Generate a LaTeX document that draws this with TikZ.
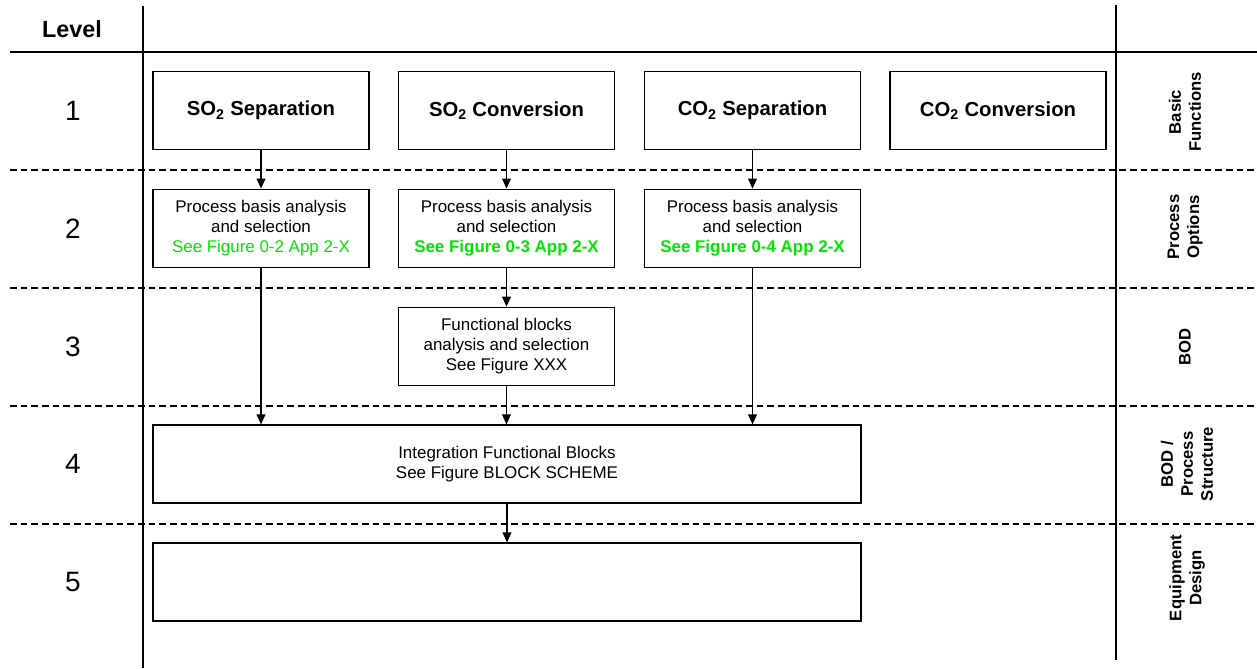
\documentclass[tikz,border=0pt]{standalone}
\usepackage{fontspec}
\setmainfont{Liberation Sans}
\usetikzlibrary{arrows.meta}
\definecolor{figgreen}{RGB}{0,230,0}
\begin{document}
\begin{tikzpicture}[x=0.75pt,y=-0.75pt,
  rule/.style={line width=1.1pt},
  levelsep/.style={line width=0.9pt,dash pattern=on 5pt off 3pt},
  fnbox/.style={draw,line width=0.8pt,minimum width=162pt,minimum height=59pt,
    align=center,font=\fontsize{15.2}{18}\selectfont\bfseries},
  stepbox/.style={draw,line width=0.8pt,minimum width=162pt,minimum height=59pt,
    align=center,font=\fontsize{12.7}{15}\selectfont},
  widebox/.style={draw,line width=0.8pt,minimum width=531pt,minimum height=58.5pt,
    align=center,font=\fontsize{12.7}{15}\selectfont},
  levelnum/.style={font=\fontsize{21}{24}\selectfont},
  sidelabel/.style={rotate=90,align=center,font=\fontsize{12.5}{15}\selectfont\bfseries},
  arr/.style={line width=1.1pt,-{Triangle[length=7.5pt,width=6.5pt]}}]
\useasboundingbox (0,0) rectangle (1257,668);

% table frame
\draw[rule] (143,6) -- (143,668);
\draw[rule] (1116,5) -- (1116,660);
\draw[rule] (10,52) -- (1257,52);
\foreach \yy in {170,288,406,524}
  \draw[levelsep] (10,\yy) -- (1257,\yy);

% level column
\node[font=\fontsize{17.5}{20}\selectfont\bfseries] (lvl) at (72,29) {Level};
\node[levelnum] (n1) at (73,110.5) {1};
\node[levelnum] (n2) at (73,228.5) {2};
\node[levelnum] (n3) at (73,346.5) {3};
\node[levelnum] (n4) at (73,464) {4};
\node[levelnum] (n5) at (73,582) {5};

% right-hand phase labels
\node[sidelabel] (s1) at (1185,112) {Basic\\Functions};
\node[sidelabel] (s2) at (1185,227) {Process\\Options};
\node[sidelabel] (s3) at (1185,347) {BOD};
\node[sidelabel] (s4) at (1187,464) {BOD /\\Process\\Structure};
\node[sidelabel] (s5) at (1187,578) {Equipment\\Design};

% level 1: basic functions
\node[fnbox] (t1) at (261,110.5) {SO\textsubscript{2} Separation};
\node[fnbox] (t2) at (506.5,110.5) {SO\textsubscript{2} Conversion};
\node[fnbox] (t3) at (752.5,110.5) {CO\textsubscript{2} Separation};
\node[fnbox] (t4) at (998,110.5) {CO\textsubscript{2} Conversion};

% level 2: process options
\node[stepbox] (p1) at (261,228.5) {Process basis analysis\\and selection\\{\color{figgreen}See Figure 0-2 App 2-X}};
\node[stepbox] (p2) at (506.5,228.5) {Process basis analysis\\and selection\\{\color{figgreen}\bfseries See Figure 0-3 App 2-X}};
\node[stepbox] (p3) at (752.5,228.5) {Process basis analysis\\and selection\\{\color{figgreen}\bfseries See Figure 0-4 App 2-X}};

% level 3: BOD
\node[stepbox] (fb) at (506.5,346.5) {Functional blocks\\analysis and selection\\See Figure XXX};

% level 4 and 5
\node[widebox] (int) at (507,464) {Integration Functional Blocks\\See Figure BLOCK SCHEME};
\node[widebox] (eq) at (507,582) {};

% connectors
\draw[arr] (t1.south) -- (p1.north);
\draw[arr] (t2.south) -- (p2.north);
\draw[arr] (t3.south) -- (p3.north);
\draw[arr] (p1.south) -- (p1.south |- int.north);
\draw[arr] (p2.south) -- (fb.north);
\draw[arr] (fb.south) -- (fb.south |- int.north);
\draw[arr] (p3.south) -- (p3.south |- int.north);
\draw[arr] (int.south) -- (eq.north);
\end{tikzpicture}
\end{document}
